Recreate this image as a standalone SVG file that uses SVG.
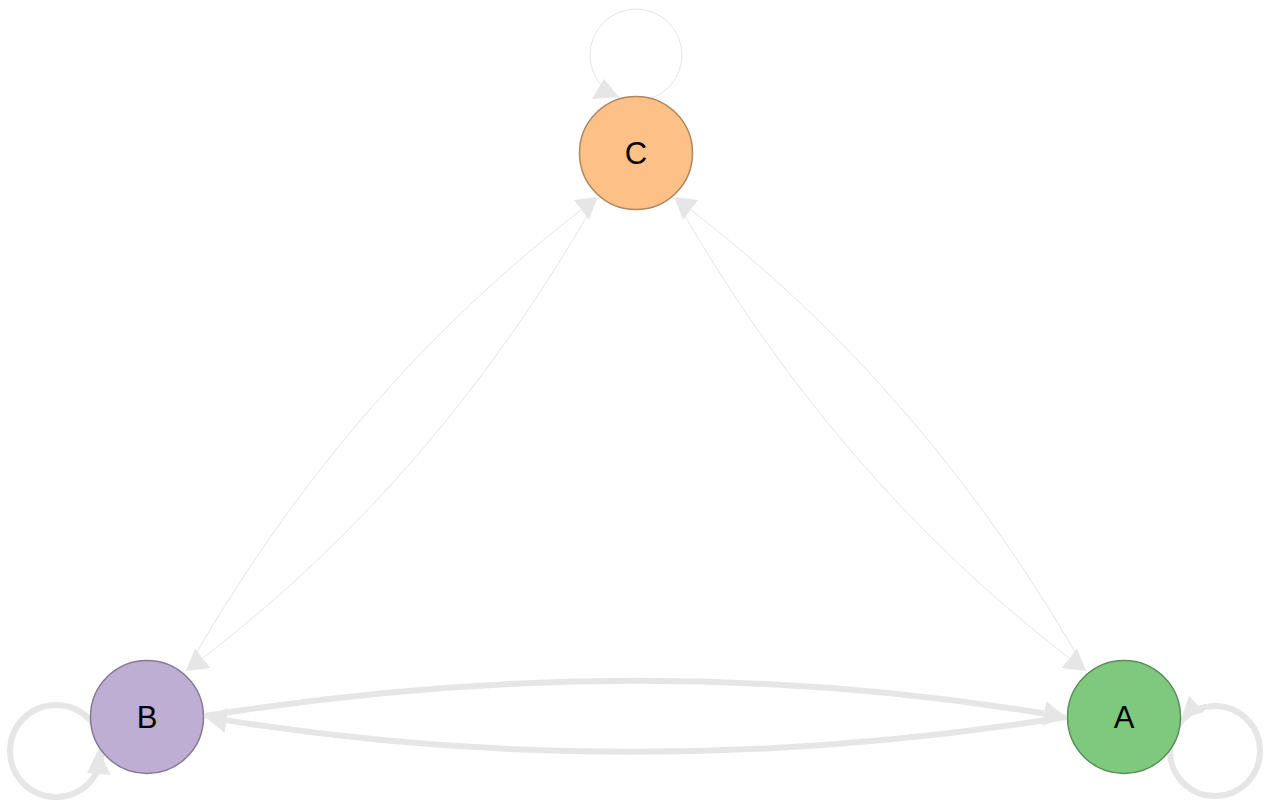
<svg xmlns="http://www.w3.org/2000/svg" width="1264" height="801" viewBox="0 0 1264 801">
  <style>
    .thin { fill: none; stroke: #e6e6e6; stroke-width: 1; }
    .thick { fill: none; stroke: #e6e6e6; stroke-width: 6; }
    .arrow { fill: #e6e6e6; stroke: none; }
    .label { font-family: "Liberation Sans", Arial, sans-serif; font-size: 31px; fill: #000000; text-anchor: middle; }
  </style>
  <defs>
    <marker id="arrowThin" markerUnits="userSpaceOnUse" markerWidth="22" markerHeight="26" refX="0" refY="12.5" orient="auto" viewBox="0 0 22 25">
      <path d="M0,0 L21,12.5 L0,25 Z" fill="#e6e6e6"/>
    </marker>
    <marker id="arrowThick" markerUnits="userSpaceOnUse" markerWidth="23" markerHeight="26" refX="0" refY="12.5" orient="auto" viewBox="0 0 23 25">
      <path d="M0,0 L22,12.5 L0,25 Z" fill="#e6e6e6"/>
    </marker>
  </defs>
  <rect width="1264" height="801" fill="#ffffff"/>

  <g id="edges">
    <!-- self loops -->
    <circle id="loop-C" class="thin" cx="636" cy="55" r="46"/>
    <polygon class="arrow" points="619,97 604,79 592,99"/>
    <circle id="loop-B" class="thick" cx="56" cy="751" r="46"/>
    <polygon class="arrow" points="98,750 87,773 111,775"/>
    <circle id="loop-A" class="thick" cx="1215" cy="751" r="45"/>
    <polygon class="arrow" points="1181,719 1204,712 1189,696"/>

    <!-- B <-> A -->
    <path id="edge-B-A" class="thick" d="M205,716 Q636,647 1044.3,713.5" marker-end="url(#arrowThick)"/>
    <path id="edge-A-B" class="thick" d="M1066,717 Q636,785 226.7,720.4" marker-end="url(#arrowThick)"/>

    <!-- B <-> C -->
    <path id="edge-B-C" class="thin" d="M186,671 Q344,392 581.3,209.8" marker-end="url(#arrowThin)"/>
    <path id="edge-C-B" class="thin" d="M598,197 Q440,476 202.7,658.2" marker-end="url(#arrowThin)"/>

    <!-- A <-> C -->
    <path id="edge-A-C" class="thin" d="M1086,671 Q928,392 690.7,209.8" marker-end="url(#arrowThin)"/>
    <path id="edge-C-A" class="thin" d="M674,197 Q832,476 1069.3,658.2" marker-end="url(#arrowThin)"/>
  </g>

  <g id="node-C">
    <circle cx="636" cy="153" r="56.5" fill="#fdc086" stroke="#b1865e" stroke-width="1.5"/>
    <text class="label" x="636" y="164">C</text>
  </g>
  <g id="node-B">
    <circle cx="147" cy="717" r="56.5" fill="#beaed4" stroke="#857a94" stroke-width="1.5"/>
    <text class="label" x="147" y="728">B</text>
  </g>
  <g id="node-A">
    <circle cx="1124" cy="717" r="56.5" fill="#7fc97f" stroke="#598d59" stroke-width="1.5"/>
    <text class="label" x="1124" y="728">A</text>
  </g>
</svg>
